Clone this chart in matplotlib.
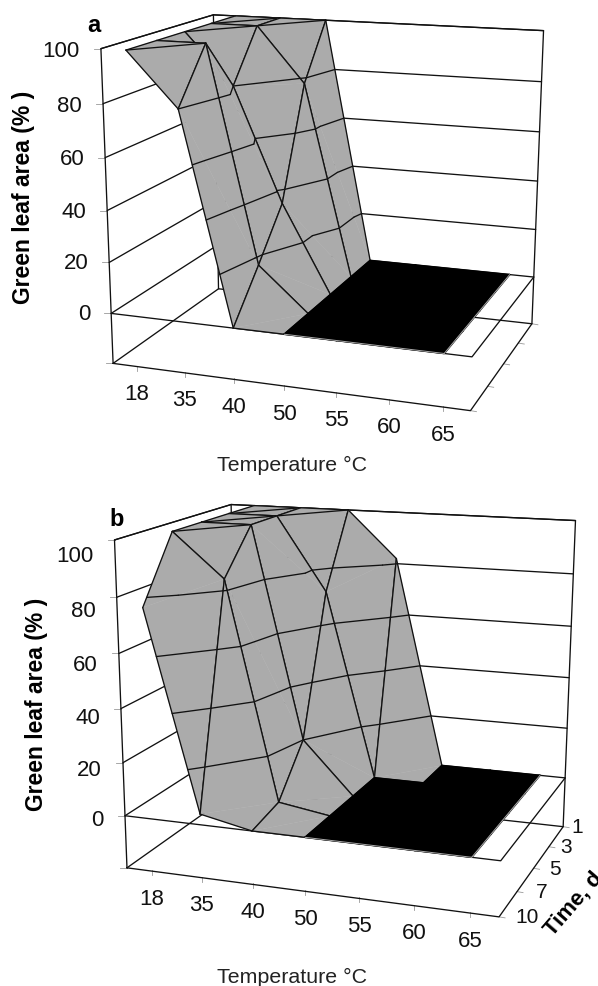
import numpy as np
import matplotlib
matplotlib.use("Agg")
import matplotlib.pyplot as plt

plt.rcParams['font.family'] = ['Liberation Sans', 'DejaVu Sans']

# ---------- data ----------
temperature = ['18', '35', '40', '50', '55', '60', '65']
time_days = ['1', '3', '5', '7', '10']
z_ticks = [0, 20, 40, 60, 80, 100]

# rows: time 1, 3, 5, 7, 10 d; columns: temperature
green_a = [[100, 100, 100, 0, 0, 0, 0],
           [100, 100, 78, 0, 0, 0, 0],
           [100, 80, 35, 0, 0, 0, 0],
           [100, 100, 17, 0, 0, 0, 0],
           [100, 80, 0, 0, 0, 0, 0]]
green_b = [[100, 100, 100, 82, 0, 0, 0],
           [100, 100, 72, 0, 0, 0, 0],
           [100, 100, 20, 0, 0, 0, 0],
           [100, 84, 3, 0, 0, 0, 0],
           [77, 4, 0, 0, 0, 0, 0]]

# cells (temperature index, time index) whose fold line shows
folds_a = [(0, 0), (0, 1), (0, 2), (0, 3), (1, 0)]
folds_b = [(0, 0), (0, 1), (0, 2), (1, 0)]

# ---------- frame anchors (u, v, z) -> pixel ----------
anchors_a = [((0, 4, -20), (112.7, 364)), ((7, 4, -20), (470, 412)),
             ((7, 0, -20), (532.7, 324.3)), ((0, 0, -20), (218.5, 288)),
             ((0, 4, 100), (101.3, 50)), ((0, 0, 100), (213.3, 15)),
             ((7, 0, 100), (543.3, 31.7)), ((0, 4, 0), (111, 314)),
             ((7, 4, 0), (472.7, 358)), ((7, 0, 0), (533, 278)),
             ((0, 0, 0), (218, 249))]
anchors_b = [((0, 4, -20), (126.7, 868)), ((7, 4, -20), (499.3, 918.3)),
             ((7, 0, -20), (563.3, 827.3)), ((0, 0, -20), (236, 790)),
             ((0, 4, 100), (114.3, 541.7)), ((0, 0, 100), (231.7, 504.3)),
             ((7, 0, 100), (575, 521.7)), ((0, 4, 0), (125, 816)),
             ((7, 4, 0), (501, 862.3)), ((7, 0, 0), (565, 778.3)),
             ((0, 0, 0), (235.6, 749))]

GRAY = '#ababab'
INK = '#111111'


def fit_projection(anchors):
    rows, rhs = [], []
    for (u, v, z), (x, y) in anchors:
        rows.append([u, v, z, 1, 0, 0, 0, 0, -x * u, -x * v, -x * z])
        rhs.append(x)
        rows.append([0, 0, 0, 0, u, v, z, 1, -y * u, -y * v, -y * z])
        rhs.append(y)
    p = np.linalg.lstsq(np.array(rows, float), np.array(rhs, float), rcond=None)[0]
    return np.append(p, 1.0).reshape(3, 4)


def contour_segments(tri, levels):
    segs = []
    for lev in levels:
        pts = []
        for a, b in ((0, 1), (1, 2), (2, 0)):
            za, zb = tri[a][2], tri[b][2]
            if (za >= lev) != (zb >= lev):
                f = (lev - za) / (zb - za)
                pts.append(tuple(tri[a][k] + f * (tri[b][k] - tri[a][k]) for k in range(3)))
        if len(pts) == 2:
            segs.append(pts)
    return segs


def panel(ax, anchors, grid, folds, zlab_dy, letter, letter_xy, ylab_xy, xlab_xy, time_labels):
    P = fit_projection(anchors)
    grid = np.array(grid, float)

    def proj(u, v, z):
        h = P @ np.array([u, v, z, 1.0])
        return h[0] / h[2], h[1] / h[2]

    def line(pts, color=INK, lw=0.95, zo=2):
        xy = np.array([proj(*p) for p in pts])
        ax.plot(xy[:, 0], xy[:, 1], color=color, lw=lw, zorder=zo,
                solid_capstyle='round', solid_joinstyle='round')

    # walls and floor
    for z in z_ticks:
        line([(0, 4, z), (0, 0, z), (7, 0, z)])
    line([(0, 4, -20), (0, 4, 100), (0, 0, 100), (7, 0, 100), (7, 0, -20), (7, 4, -20), (0, 4, -20)])
    line([(0, 4, -20), (0, 0, -20), (7, 0, -20)])
    line([(0, 0, -20), (0, 0, 100)])
    line([(0, 4, 0), (7, 4, 0), (7, 0, 0)])

    # ticks
    for i, t in enumerate(temperature):
        x, y = proj(i + 0.5, 4, -20)
        ax.plot([x, x], [y - 1, y + 4], color='#999999', lw=0.6, zorder=1)
        ax.text(x, y + 27, t, fontsize=16, ha='center', va='center', color='#111111')
    for j, t in enumerate(time_days):
        x, y = proj(7, j, -20)
        ax.plot([x, x + 6], [y, y + 1], color='#999999', lw=0.6, zorder=1)
        if time_labels:
            ax.text(x + 14 + 3.5 * j, y, t, fontsize=15, ha='center', va='center', color='#111111')
    for k, z in enumerate(z_ticks + [-20]):
        x, y = proj(0, 4, z)
        ax.plot([x - 7, x], [y, y], color='#999999', lw=0.6, zorder=1)
        if z >= 0:
            ax.text(x - 21, y + zlab_dy[k], str(z), fontsize=16, ha='right', va='center', color='#111111')

    # surface, painted from back to front
    zo = 3
    for j in range(len(time_days) - 1):
        for i in range(len(temperature) - 1):
            A = (i + 0.5, j, grid[j, i])
            B = (i + 1.5, j, grid[j, i + 1])
            C = (i + 1.5, j + 1, grid[j + 1, i + 1])
            D = (i + 0.5, j + 1, grid[j + 1, i])
            flat = grid[j, i] == 0 and grid[j, i + 1] == 0 and grid[j + 1, i] == 0 and grid[j + 1, i + 1] == 0
            col = 'black' if flat else GRAY
            for tri in ((A, B, D), (B, C, D)):
                xy = np.array([proj(*p) for p in tri])
                ax.fill(xy[:, 0], xy[:, 1], facecolor=col, edgecolor=col,
                        lw=1.2 if flat else 0.3, zorder=zo, joinstyle='round')
                zo += 1
            if not flat:
                for seg in contour_segments((A, B, D), [20, 40, 60, 80]) + contour_segments((B, C, D), [20, 40, 60, 80]):
                    line(seg, zo=zo)
                line([A, B], zo=zo)
                line([A, D], zo=zo)
                line([B, C], zo=zo)
                line([D, C], zo=zo)
                if (i, j) in folds:
                    line([D, B], zo=zo)
                zo += 1

    # light rim of the flat part
    line([(6.5, 0, 0), (6.5, 4, 0)], color=GRAY, lw=0.7, zo=zo)
    line([(3.5, 4, 0), (6.5, 4, 0)], color=GRAY, lw=0.7, zo=zo)

    ax.text(*letter_xy, letter, fontsize=17, fontweight='bold', ha='center', va='center', color='black')
    ax.text(*ylab_xy, 'Green leaf area (% )', fontsize=16.5, fontweight='bold', rotation=90,
            ha='center', va='center', color='black')
    ax.text(*xlab_xy, 'Temperature °C', fontsize=15.4, ha='center', va='center', color='#222222')


fig = plt.figure(figsize=(5.98, 9.87), dpi=100)
ax = fig.add_axes([0, 0, 1, 1])
ax.set_xlim(0, 598)
ax.set_ylim(987, 0)
ax.axis('off')

panel(ax, anchors_a, green_a, folds_a, [0, 0.5, 1, 1, 1.5, 1.5, 0], 'a', (94, 25), (24, 197), (292, 465), False)
panel(ax, anchors_b, green_b, folds_b, [4, 7, 9, 11, 13, 15.5, 0], 'b', (117, 520), (37, 704), (292, 977), True)

ax.text(548, 933, 'Time, d', fontsize=16, fontweight='bold', rotation=49, ha='left', va='center',
        rotation_mode='anchor', color='black')

fig.savefig('out.png', dpi=100)
